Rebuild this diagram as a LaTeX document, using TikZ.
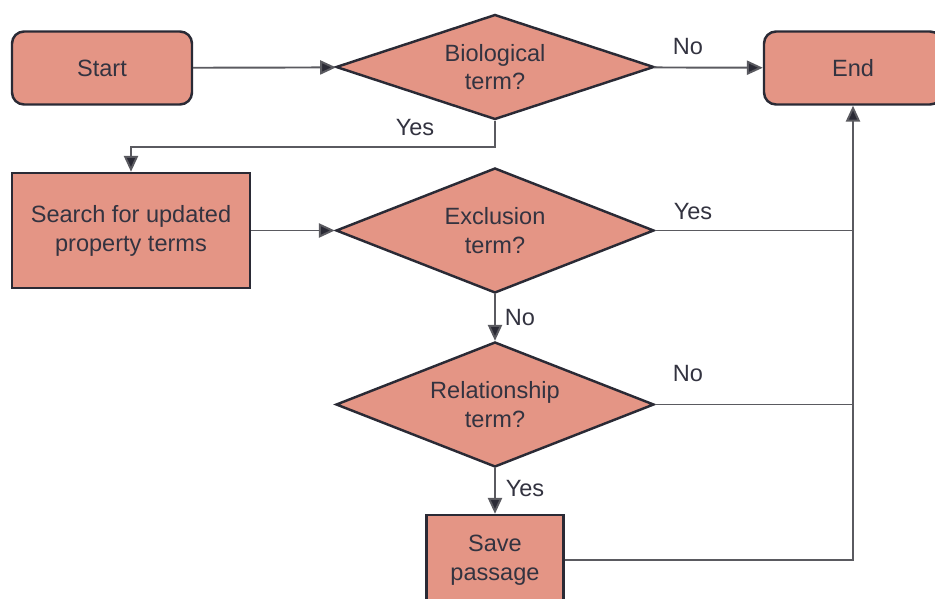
\documentclass[tikz,border=0pt]{standalone}
\usepackage{fontspec}
\setmainfont{Liberation Sans}
\usetikzlibrary{shapes.geometric,arrows.meta}
\definecolor{boxfill}{HTML}{E49585}
\definecolor{boxline}{HTML}{2A2A35}
\definecolor{wire}{HTML}{5A5A60}
\definecolor{ink}{HTML}{333340}

\begin{document}
\begin{tikzpicture}[
    font=\fontsize{13.4}{16.4}\selectfont,
    text=ink,
    terminal/.style={rectangle, draw=boxline, line width=1.4pt, fill=boxfill, rounded corners=0.24cm, minimum width=3.6cm, minimum height=1.46cm, align=center},
    process/.style={rectangle, draw=boxline, line width=1.4pt, fill=boxfill, align=center},
    decision/.style={diamond, draw=boxline, line width=1.4pt, fill=boxfill, aspect=3, inner sep=0pt, minimum width=6.36cm, align=center},
    line/.style={draw=wire, line width=1.1pt},
    arrow/.style={line, -{Triangle[length=9pt,width=8pt]}, arrows={[fill=boxline]}},
    lbl/.style={font=\fontsize{13.4}{16.4}\selectfont}
]
\useasboundingbox (0,0) rectangle (18.7,-11.98);

% Nodes
\node[terminal] (start) at (2.04,-1.36) {Start};
\node[decision, minimum height=2.1cm] (bio) at (9.9,-1.34) {Biological\\term?};
\node[terminal, minimum width=3.56cm] (end) at (17.06,-1.36) {End};
\node[process, minimum width=4.76cm, minimum height=2.3cm] (search) at (2.62,-4.61) {Search for updated\\property terms};
\node[decision, minimum height=2.5cm] (excl) at (9.9,-4.61) {Exclusion\\term?};
\node[decision, minimum height=2.5cm] (rel) at (9.9,-8.09) {Relationship\\term?};
\node[process, minimum width=2.74cm, minimum height=1.8cm] (save) at (9.9,-11.2) {Save\\passage};

% Connectors
\coordinate (split) at (9.9,-2.94);
\draw[arrow] (start) -- (bio);
\draw[arrow] (bio) -- (end);
\draw[arrow] (bio.south) -- (split) -| (search.north);
\draw[arrow] (search) -- (excl);
\draw[line] (excl.east) -- (excl.east -| end.south);
\draw[arrow] (excl) -- (rel);
\draw[line] (rel.east) -- (rel.east -| end.south);
\draw[arrow] (rel) -- (save);
\draw[arrow] (save.east) -| (end.south);

% Labels
\node[lbl] (l1) at (13.76,-0.94) {No};
\node[lbl] (l2) at (8.3,-2.56) {Yes};
\node[lbl] (l3) at (13.86,-4.24) {Yes};
\node[lbl] (l4) at (10.4,-6.36) {No};
\node[lbl] (l5) at (13.76,-7.48) {No};
\node[lbl] (l6) at (10.5,-9.78) {Yes};

\end{tikzpicture}
\end{document}
